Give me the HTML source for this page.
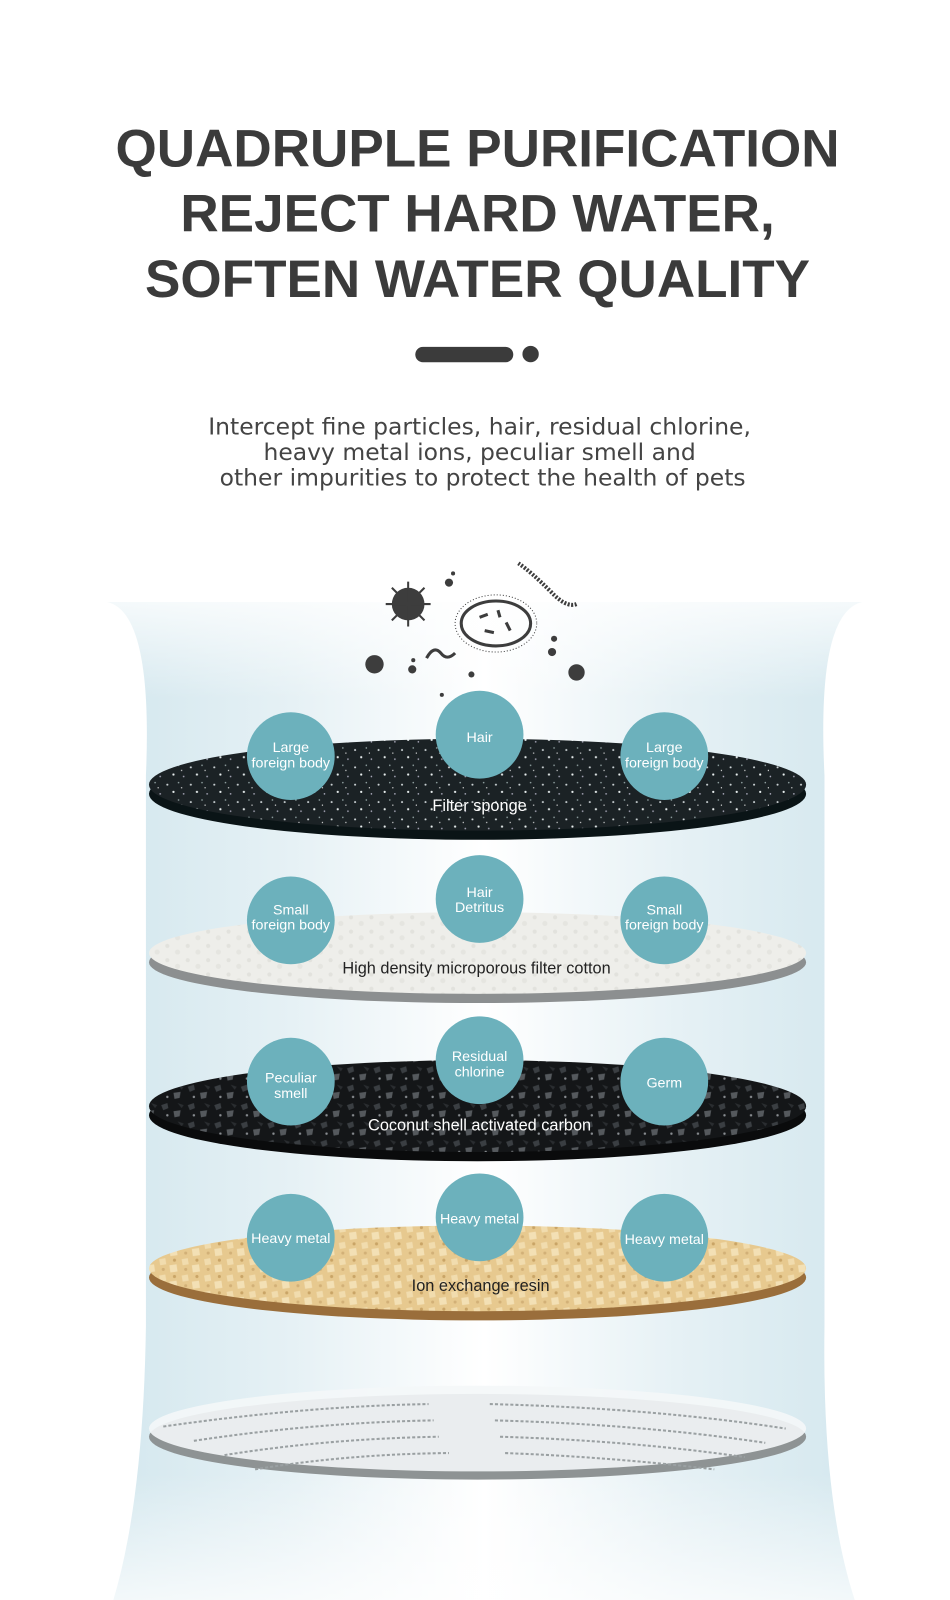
<!DOCTYPE html>
<html><head><meta charset="utf-8"><style>
html,body{margin:0;padding:0;background:#fff;}
svg{display:block}
</style></head><body>
<svg width="950" height="1600" viewBox="0 0 950 1600" xmlns="http://www.w3.org/2000/svg" font-family="Liberation Sans, sans-serif">
<defs>
<linearGradient id="cyl" x1="0" x2="1" y1="0" y2="0">
<stop offset="0" stop-color="#d3e7ee"/><stop offset="0.25" stop-color="#e6f1f5"/><stop offset="0.5" stop-color="#ffffff"/><stop offset="0.75" stop-color="#e6f1f5"/><stop offset="1" stop-color="#d3e7ee"/>
</linearGradient>
<linearGradient id="fadeV" x1="0" x2="0" y1="0" y2="1">
<stop offset="0" stop-color="#fff" stop-opacity="1"/><stop offset="0.12" stop-color="#fff" stop-opacity="0"/><stop offset="0.85" stop-color="#fff" stop-opacity="0"/><stop offset="1" stop-color="#fff" stop-opacity="0.9"/>
</linearGradient>
<pattern id="sponge" width="23" height="17" patternUnits="userSpaceOnUse">
<rect width="23" height="17" fill="#1b2225"/>
<circle cx="3" cy="4" r="1" fill="#cfd6d8"/><circle cx="14" cy="2" r="0.8" fill="#9aa"/><circle cx="9" cy="11" r="1.1" fill="#e8eeee"/><circle cx="19" cy="13" r="0.8" fill="#aab"/><circle cx="17" cy="7" r="0.6" fill="#fff"/>
</pattern>
<pattern id="cotton" width="20" height="14" patternUnits="userSpaceOnUse">
<rect width="20" height="14" fill="#eeeeea"/>
<circle cx="4" cy="3" r="2" fill="#e2e2dd"/><circle cx="14" cy="9" r="2.5" fill="#e5e5e0"/>
</pattern>
<pattern id="carbon" width="26" height="18" patternUnits="userSpaceOnUse">
<rect width="26" height="18" fill="#141618"/>
<polygon points="2,3 8,1 9,6 4,8" fill="#3a3e42"/><polygon points="14,9 21,8 20,14 15,15" fill="#55595d"/><polygon points="18,1 24,3 22,6" fill="#2a2d30"/><circle cx="8" cy="13" r="1.2" fill="#8a8e92"/>
</pattern>
<pattern id="resin" width="22" height="16" patternUnits="userSpaceOnUse">
<rect width="22" height="16" fill="#e7c98f"/>
<polygon points="2,2 8,1 9,7 3,8" fill="#f1dcae"/><polygon points="12,8 19,7 20,14 13,15" fill="#f3e0b5"/><circle cx="17" cy="3" r="1.5" fill="#c9a466"/><circle cx="6" cy="12" r="1.5" fill="#d2b077"/>
</pattern>
</defs>
<g transform="scale(1.0204)">
<!-- cylinder glow -->
<path d="M105,590 Q150,600 143,760 L143,1300 Q140,1500 100,1600 L850,1600 Q805,1500 808,1300 L808,760 Q800,600 845,590 Z" fill="url(#cyl)"/>
<rect x="90" y="560" width="770" height="1040" fill="url(#fadeV)"/>

<!-- title -->
<g fill="#3b3b3b" font-weight="bold" font-size="52" text-anchor="middle">
<text x="468" y="163">QUADRUPLE PURIFICATION</text>
<text x="468" y="227">REJECT HARD WATER,</text>
<text x="468" y="291">SOFTEN WATER QUALITY</text>
</g>
<rect x="407" y="340" width="96" height="15" rx="7.5" fill="#3b3b3b"/>
<circle cx="520" cy="347" r="8" fill="#3b3b3b"/>
<g fill="#444" font-size="23" text-anchor="middle" font-family="DejaVu Sans, sans-serif">
<text x="470" y="426">Intercept fine particles, hair, residual chlorine,</text>
<text x="470" y="451">heavy metal ions, peculiar smell and</text>
<text x="473" y="476">other impurities to protect the health of pets</text>
</g>

<!-- germs -->
<g fill="#3d3d3d" stroke="#3d3d3d">
<circle cx="400" cy="592" r="16" stroke="none"/>
<g stroke-width="2"><line x1="400" y1="570" x2="400" y2="614"/><line x1="378" y1="592" x2="422" y2="592"/><line x1="384" y1="576" x2="416" y2="608"/><line x1="416" y1="576" x2="384" y2="608"/></g>
<ellipse cx="486" cy="611" rx="34" ry="22" fill="none" stroke-width="3"/>
<ellipse cx="486" cy="611" rx="40" ry="28" fill="none" stroke-width="1" stroke-dasharray="1 2"/>
<g stroke-width="3"><line x1="470" y1="605" x2="478" y2="602"/><line x1="488" y1="598" x2="490" y2="605"/><line x1="496" y1="610" x2="500" y2="618"/><line x1="475" y1="618" x2="484" y2="620"/></g>
<path d="M508,552 Q520,560 540,580 Q555,596 565,592" fill="none" stroke-width="4" stroke-dasharray="2 1.5"/>
<path d="M418,645 Q425,632 432,640 Q438,648 446,640" fill="none" stroke-width="3"/>
<g stroke="none"><circle cx="367" cy="651" r="9"/><circle cx="404" cy="656" r="4"/><circle cx="565" cy="659" r="8"/><circle cx="541" cy="639" r="4"/><circle cx="440" cy="571" r="4"/><circle cx="444" cy="562" r="2"/><circle cx="462" cy="661" r="3"/><circle cx="433" cy="681" r="2"/><circle cx="405" cy="647" r="2"/><circle cx="543" cy="626" r="3"/></g>
</g>

<!-- discs -->
<g>
<ellipse cx="468" cy="778" rx="322" ry="45" fill="#0a1416"/>
<ellipse cx="468" cy="769" rx="322" ry="45" fill="url(#sponge)"/>
<ellipse cx="468" cy="943" rx="322" ry="40" fill="#8c8f90"/>
<ellipse cx="468" cy="934" rx="322" ry="40" fill="url(#cotton)"/>
<ellipse cx="468" cy="1093" rx="322" ry="45" fill="#0a0b0c"/>
<ellipse cx="468" cy="1084" rx="322" ry="45" fill="url(#carbon)"/>
<ellipse cx="468" cy="1252" rx="322" ry="42" fill="#9a6e3b"/>
<ellipse cx="468" cy="1243" rx="322" ry="42" fill="url(#resin)"/>
<ellipse cx="468" cy="1408" rx="322" ry="42" fill="#8e9394"/>
<ellipse cx="468" cy="1400" rx="322" ry="42" fill="#f4f7f8" fill-opacity="0.9"/>
<g stroke="#9aa0a2" stroke-width="2" fill="none" stroke-dasharray="3 2">
<path d="M160,1398 Q300,1378 420,1376"/><path d="M190,1412 Q310,1394 425,1392"/><path d="M220,1426 Q320,1410 430,1408"/><path d="M250,1440 Q340,1425 440,1424"/>
<path d="M480,1376 Q640,1380 770,1400"/><path d="M485,1392 Q630,1396 750,1414"/><path d="M490,1408 Q620,1412 730,1428"/><path d="M495,1424 Q600,1428 700,1440"/>
</g>
</g>

<!-- circles -->
<g fill="#6cb1bc">
<circle cx="285" cy="741" r="43"/><circle cx="470" cy="720" r="43"/><circle cx="651" cy="741" r="43"/>
<circle cx="285" cy="902" r="43"/><circle cx="470" cy="881" r="43"/><circle cx="651" cy="902" r="43"/>
<circle cx="285" cy="1060" r="43"/><circle cx="470" cy="1039" r="43"/><circle cx="651" cy="1060" r="43"/>
<circle cx="285" cy="1213" r="43"/><circle cx="470" cy="1193" r="43"/><circle cx="651" cy="1213" r="43"/>
</g>
<g fill="#fff" font-size="14" text-anchor="middle">
<text x="285" y="737">Large</text><text x="285" y="752">foreign body</text>
<text x="470" y="727">Hair</text>
<text x="651" y="737">Large</text><text x="651" y="752">foreign body</text>
<text x="285" y="896">Small</text><text x="285" y="911">foreign body</text>
<text x="470" y="879">Hair</text><text x="470" y="894">Detritus</text>
<text x="651" y="896">Small</text><text x="651" y="911">foreign body</text>
<text x="285" y="1061">Peculiar</text><text x="285" y="1076">smell</text>
<text x="470" y="1040">Residual</text><text x="470" y="1055">chlorine</text>
<text x="651" y="1066">Germ</text>
<text x="285" y="1218">Heavy metal</text>
<text x="470" y="1199">Heavy metal</text>
<text x="651" y="1219">Heavy metal</text>
</g>
<g font-size="16" text-anchor="middle">
<text x="470" y="795" fill="#fff">Filter sponge</text>
<text x="467" y="954" fill="#222">High density microporous filter cotton</text>
<text x="470" y="1108" fill="#fff">Coconut shell activated carbon</text>
<text x="471" y="1265" fill="#222">Ion exchange resin</text>
</g>
</g>
</svg>
</body></html>
